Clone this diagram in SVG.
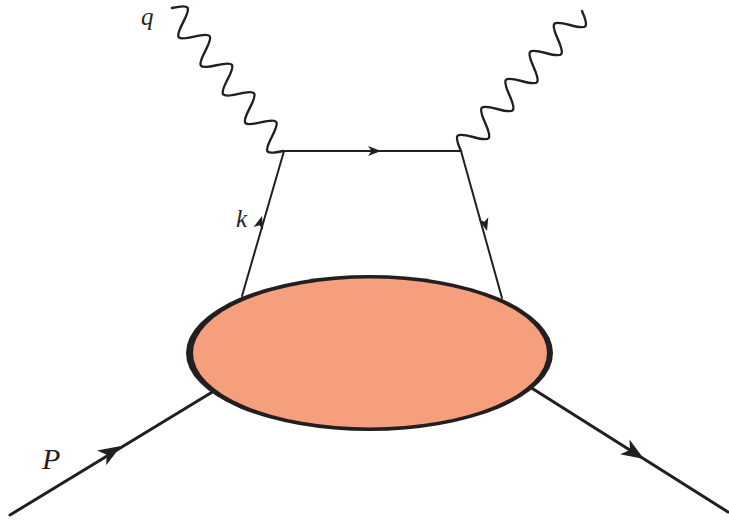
<svg xmlns="http://www.w3.org/2000/svg" width="729" height="521" viewBox="0 0 729 521">
<style>
.ln{fill:none;stroke:#231F20;stroke-linecap:round;stroke-linejoin:round}
.q{stroke-width:2}
.ph{stroke-width:2.4}
.ext{stroke-width:3}
.ah{fill:#231F20;stroke:none}
.lbl{font-family:"Liberation Serif",serif;font-style:italic;fill:#231F20}
</style>
<defs>
<path id="arr" d="M0,0 L-13,-5 L-9.5,0 L-13,5 Z"/>
</defs>
<g id="connectors">
<g id="photon-q" transform="translate(283,151) rotate(-127.83)">
<path class="ln ph" d="M0,0 C7.68,-16.67 10.42,-16.67 18.1,0 S28.52,16.67 36.2,0 S46.62,-16.67 54.3,0 S64.72,16.67 72.4,0 S82.82,-16.67 90.5,0 S100.92,16.67 108.6,0 S119.02,-16.67 126.7,0 S137.12,16.67 144.8,0 S155.22,-16.67 162.9,0 S173.32,16.67 181,0"/>
</g>
<g id="photon-out" transform="translate(461,151) rotate(-49.17)">
<path class="ln ph" d="M0,0 C7.85,-16.67 10.65,-16.67 18.5,0 S29.15,16.67 37,0 S47.65,-16.67 55.5,0 S66.15,16.67 74,0 S84.65,-16.67 92.5,0 S103.15,16.67 111,0 S121.65,-16.67 129.5,0 S140.15,16.67 148,0 S158.65,-16.67 166.5,0 S177.15,16.67 185,0"/>
</g>
<path class="ln q" d="M242,296 L284,151 L461,151 L502,298"/>
<use href="#arr" class="ah" transform="translate(262,216) rotate(-73.85)"/>
<use href="#arr" class="ah" transform="translate(381,151)"/>
<use href="#arr" class="ah" transform="translate(487,231) rotate(74.4)"/>
<path class="ln ext" d="M10,515 L214,391"/>
<path class="ln ext" d="M530,387 L728,512"/>
<use href="#arr" class="ah" transform="translate(121,446) rotate(-31.4) scale(1.75)"/>
<use href="#arr" class="ah" transform="translate(644,459) rotate(32.45) scale(1.75)"/>
</g>
<g id="blob">
<ellipse cx="369.5" cy="353" rx="183.5" ry="78" fill="#231F20"/>
<ellipse cx="370" cy="353" rx="177" ry="74.5" fill="#F69F7D"/>
</g>
<g id="labels">
<text class="lbl" x="141" y="25" font-size="25">q</text>
<text class="lbl" x="236" y="227" font-size="25">k</text>
<text class="lbl" x="42" y="469" font-size="30">P</text>
</g>
</svg>
